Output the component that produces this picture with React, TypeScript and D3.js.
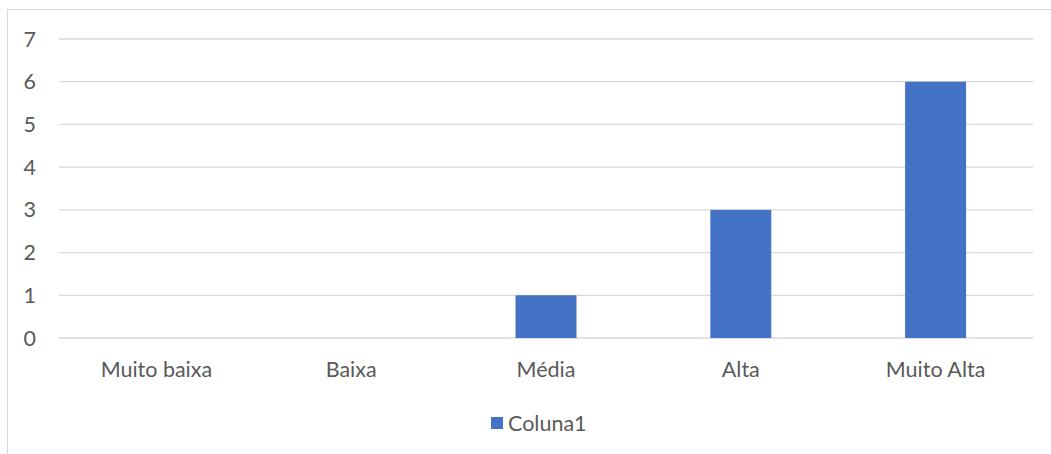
import React from "react";
import * as d3 from "d3";

const categories = ["Muito baixa", "Baixa", "Média", "Alta", "Muito Alta"];
const values = [0, 0, 1, 3, 6];
const yTicks = [0, 1, 2, 3, 4, 5, 6, 7];
const seriesName = "Coluna1";

export default function App() {
  const W = 1051, H = 454;
  const left = 59, right = 1033, top = 39, bottom = 338;
  const x = d3.scaleBand<string>().domain(categories).range([left, right]).paddingInner(0.687).paddingOuter(0.3435);
  const y = d3.scaleLinear().domain([0, 7]).range([bottom, top]);
  const font = "Lato, 'Open Sans', sans-serif";
  const fs = 21.5;
  return (
    <svg width={W} height={H} style={{ position: "absolute", left: 0, top: 0, display: "block" }}>
      <rect x={7.5} y={9.5} width={1100} height={500} fill="#fff" stroke="#d9d9d9" strokeWidth={1} />
      {yTicks.map(t => (
        <g key={t}>
          <line x1={left} x2={right} y1={y(t)} y2={y(t)} stroke="#d9d9d9" strokeWidth={1.3} />
          <text x={36} y={y(t)} dy="0.35em" textAnchor="end" fill="#595959" fontSize={fs} fontFamily={font}>{t}</text>
        </g>
      ))}
      {categories.map((c, i) => (
        <g key={c}>
          {values[i] > 0 && (
            <rect x={x(c)} y={y(values[i])} width={x.bandwidth()} height={y(0) - y(values[i])} fill="#4472c4" />
          )}
          <text x={(x(c) as number) + x.bandwidth() / 2} y={369} dy="0.35em" textAnchor="middle" fill="#595959" fontSize={fs} fontFamily={font}>{c}</text>
        </g>
      ))}
      <rect x={491} y={417} width={12} height={12} fill="#4472c4" />
      <text x={508} y={423} dy="0.35em" fill="#595959" fontSize={fs} fontFamily={font}>{seriesName}</text>
    </svg>
  );
}
